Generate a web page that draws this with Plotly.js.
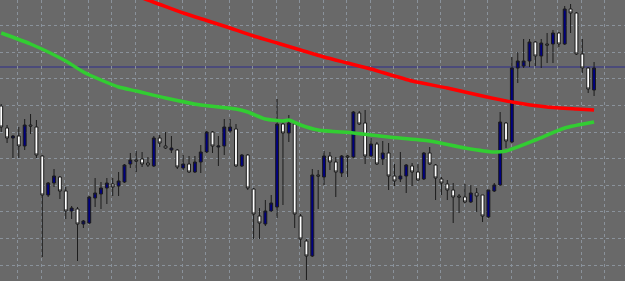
<!DOCTYPE html>
<html>
<head>
<meta charset="utf-8">
<script src="https://cdn.plot.ly/plotly-3.0.1.min.js"></script>
<style>
html,body{margin:0;padding:0;background:#696969;}
#chart{width:625px;height:281px;}
</style>
</head>
<body>
<div id="chart"></div>
<script>
// Bar index (0 = leftmost visible bar)
const bars = Array.from({length: 102}, (_, i) => i);

// OHLC values (price units)
const open  = [194,172,162,164,154,175,173,144,105,117,123,109,89,91,76,77,102,106,112,116,114,118,136,140,141,137,134,162,154,150,150,132,136,128,138,148,168,153,154,169,171,134,145,111,84,76,89,93,176,167,176,84,59,44,125,123,144,138,127,144,143,187,177,144,156,141,147,124,121,124,134,128,121,147,135,121,116,110,104,103,98,107,105,83,109,115,177,158,232,234,239,258,244,256,256,267,256,291,287,246,232,210];
const high  = [196,175,165,173,181,186,180,145,118,131,124,113,94,93,80,104,122,118,122,122,128,136,147,149,148,143,164,165,168,164,151,145,144,144,155,169,169,164,181,181,176,146,146,112,92,100,105,201,178,185,178,86,61,131,130,149,148,143,145,145,189,189,190,162,158,159,157,136,148,136,137,136,148,153,136,123,120,117,106,116,115,112,105,110,117,188,178,243,248,261,261,259,261,267,270,268,294,296,288,261,233,238];
const low   = [168,157,142,142,150,166,142,43,103,113,101,81,81,39,72,76,93,91,96,104,104,117,132,128,133,133,133,153,151,147,131,130,127,127,127,147,147,134,145,167,133,133,110,61,61,74,88,82,95,158,72,53,20,43,91,115,130,103,123,123,142,175,136,143,135,135,110,114,118,107,114,119,120,135,100,105,100,77,87,97,97,88,78,82,108,114,152,157,217,232,233,234,232,237,237,253,255,267,245,227,207,204];
const close = [173,162,164,154,175,174,145,105,117,124,109,89,92,76,79,103,107,112,117,113,119,135,140,139,136,135,162,157,152,152,133,136,128,138,148,168,154,154,173,173,134,145,112,86,77,89,97,176,167,177,86,61,44,125,124,144,138,128,144,143,188,176,144,156,136,147,124,119,124,135,128,120,147,136,122,117,110,103,103,98,107,104,84,110,115,178,159,232,239,239,258,244,257,255,267,256,291,287,246,232,211,232];

// Slow moving average (red), read at selected bars
const maSlowX = [18,25,31,35,39,43,47,51,55,59,63,65,70,76,82,87,93,98,101];
const maSlowY = [314,300,287,279.5,272,264,257,250,243,237,231,227.5,219,212,204,198,193,191,190];

// Fast moving average (green), read at selected bars
const maFastX = [0,5,11,14,17,20,23,28,34,40,42,45,48,49,51,54,60,66,73,79,84,86,91,96,101];
const maFastY = [267,256,239,228,220,213,209,202,195,191,188,181,179,180,175,170,167,163,159,152,148,149,160,172,178];

// Horizontal price level
const levelPrice = 233;

const traces = [
  {
    type: 'candlestick',
    x: bars, open: open, high: high, low: low, close: close,
    increasing: {line: {color: '#1c1c1c', width: 1}, fillcolor: '#000080'},
    decreasing: {line: {color: '#1c1c1c', width: 1}, fillcolor: '#ffffff'},
    whiskerwidth: 0,
    hoverinfo: 'skip'
  },
  {
    type: 'scatter', mode: 'lines', x: maSlowX, y: maSlowY,
    line: {color: '#ff0000', width: 3.5, shape: 'spline', smoothing: 0.6},
    hoverinfo: 'skip'
  },
  {
    type: 'scatter', mode: 'lines', x: maFastX, y: maFastY,
    line: {color: '#32cd32', width: 3.5, shape: 'spline', smoothing: 0.6},
    hoverinfo: 'skip'
  }
];

const layout = {
  width: 625, height: 281,
  margin: {l: 0, r: 0, t: 0, b: 0, pad: 0},
  paper_bgcolor: '#696969',
  plot_bgcolor: '#696969',
  showlegend: false,
  boxgap: 0.3,
  xaxis: {
    type: 'linear',
    range: [-0.204, 106.27],
    rangeslider: {visible: false},
    showticklabels: false,
    ticks: '',
    zeroline: false,
    showline: false,
    showgrid: true,
    tick0: 2.85, dtick: 4,
    gridcolor: '#8a929b', gridwidth: 1, griddash: '3px,3px'
  },
  yaxis: {
    range: [19, 300],
    showticklabels: false,
    ticks: '',
    zeroline: false,
    showline: false,
    showgrid: true,
    tick0: 35, dtick: 26.6,
    gridcolor: '#8a929b', gridwidth: 1, griddash: '3px,3px'
  },
  shapes: [{
    type: 'line', xref: 'paper', x0: 0, x1: 1, yref: 'y', y0: levelPrice, y1: levelPrice,
    line: {color: '#2e2e8c', width: 1}, layer: 'below'
  }]
};

Plotly.newPlot('chart', traces, layout, {staticPlot: true, displayModeBar: false});
</script>
</body>
</html>
